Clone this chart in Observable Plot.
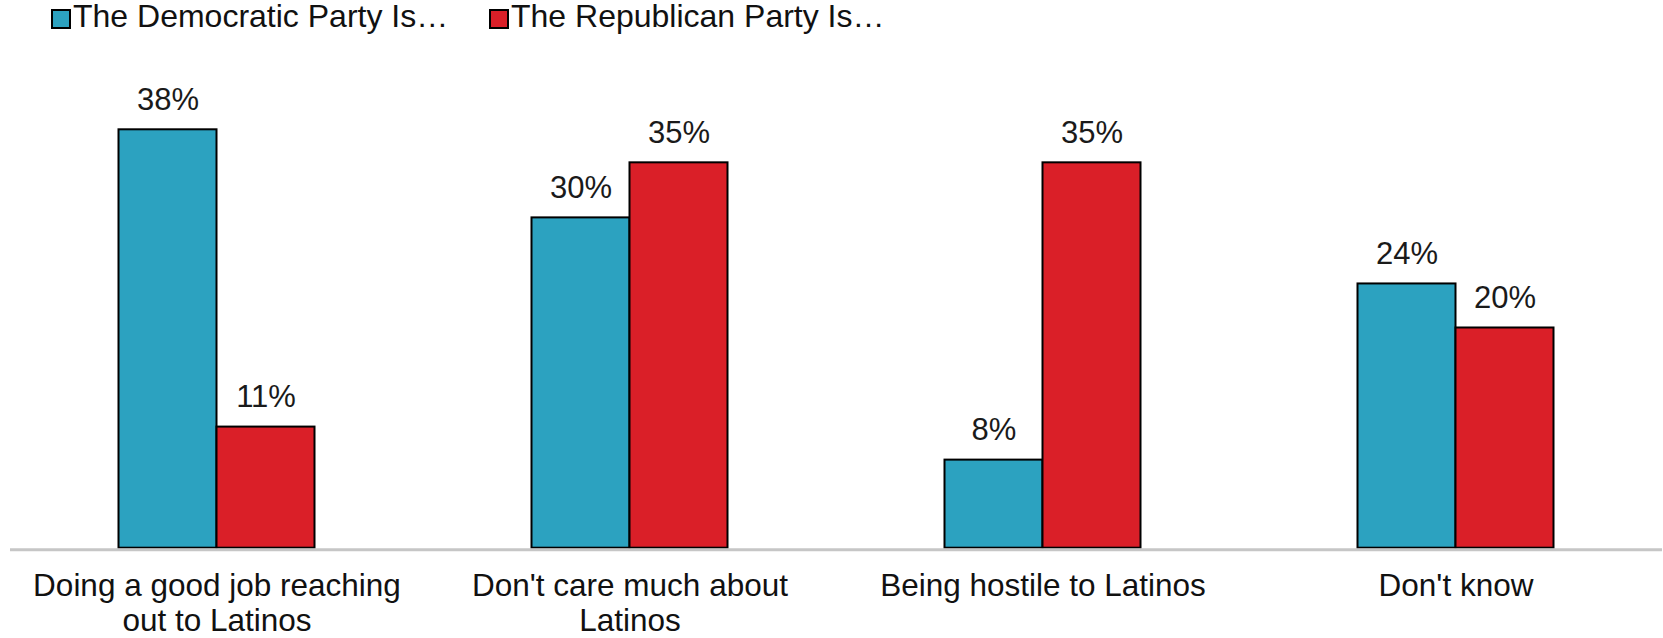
<!DOCTYPE html>
<html>
<head>
<meta charset="utf-8">
<script src="https://cdn.jsdelivr.net/npm/d3@7"></script>
<script src="https://cdn.jsdelivr.net/npm/@observablehq/plot@0.6"></script>
<style>
  html, body { margin: 0; padding: 0; background: #fff; }
  body { width: 1663px; height: 638px; overflow: hidden; font-family: "Liberation Sans", Arial, sans-serif; }
  #legend { position: relative; height: 40px; width: 1663px; }
  .item { position: absolute; top: 0; height: 40px; font-size: 32px; color: #111; white-space: nowrap; }
  .sw { position: absolute; top: 9px; width: 16px; height: 16px; border: 2px solid #000; }
  .lbl { position: absolute; top: -2px; line-height: 36px; }
  #chart svg { display: block; }
</style>
</head>
<body>
<div id="legend"></div>
<div id="chart"></div>
<script>
const categories = [
  "Doing a good job reaching out to Latinos",
  "Don't care much about Latinos",
  "Being hostile to Latinos",
  "Don't know"
];
const categoryLabels = [
  "Doing a good job reaching\nout to Latinos",
  "Don't care much about\nLatinos",
  "Being hostile to Latinos",
  "Don't know"
];
const parties = ["The Democratic Party Is…", "The Republican Party Is…"];
const demValues = [38, 30, 8, 24];
const repValues = [11, 35, 35, 20];
const colors = ["#2ca2c0", "#da1f28"];

const data = [];
categories.forEach((c, i) => {
  data.push({category: c, party: parties[0], value: demValues[i]});
  data.push({category: c, party: parties[1], value: repValues[i]});
});
const labelOf = new Map(categories.map((c, i) => [c, categoryLabels[i]]));

// legend
const legend = document.getElementById("legend");
const legendLeft = [51, 489];
parties.forEach((p, i) => {
  const item = document.createElement("div");
  item.className = "item";
  item.style.left = legendLeft[i] + "px";
  const sw = document.createElement("div");
  sw.className = "sw";
  sw.style.left = "0px";
  sw.style.background = colors[i];
  const lbl = document.createElement("div");
  lbl.className = "lbl";
  lbl.style.left = "22px";
  lbl.textContent = p;
  item.appendChild(sw);
  item.appendChild(lbl);
  legend.appendChild(item);
});

const chart = Plot.plot({
  width: 1663,
  height: 598,
  marginLeft: 9.5,
  marginRight: 0,
  marginTop: 89.3,
  marginBottom: 90.3,
  style: {fontFamily: '"Liberation Sans", Arial, sans-serif', fontSize: "31px", background: "white", color: "#1a1a1a"},
  fx: {domain: categories, padding: 0, axis: null, label: null},
  x: {domain: parties, paddingInner: 0, paddingOuter: 1.103, axis: null, label: null},
  y: {domain: [0, 38], axis: null},
  color: {domain: parties, range: colors},
  marks: [
    Plot.barY(data, {fx: "category", x: "party", y: "value", fill: "party", stroke: "#000", strokeWidth: 2, inset: 0}),
    Plot.ruleY([0], {stroke: "#c6c6c6", strokeWidth: 3, dy: 1.5}),
    Plot.text(data, {fx: "category", x: "party", y: "value", text: d => d.value + "%", dy: -20, lineAnchor: "bottom", fontSize: 31, fill: "#1a1a1a"}),
    Plot.text(categories, {fx: d => d, text: d => labelOf.get(d), frameAnchor: "bottom", lineAnchor: "top", dy: 23.5, lineHeight: 1.1, fontSize: 31.5, fill: "#111"})
  ]
});
document.getElementById("chart").appendChild(chart);
</script>
</body>
</html>
